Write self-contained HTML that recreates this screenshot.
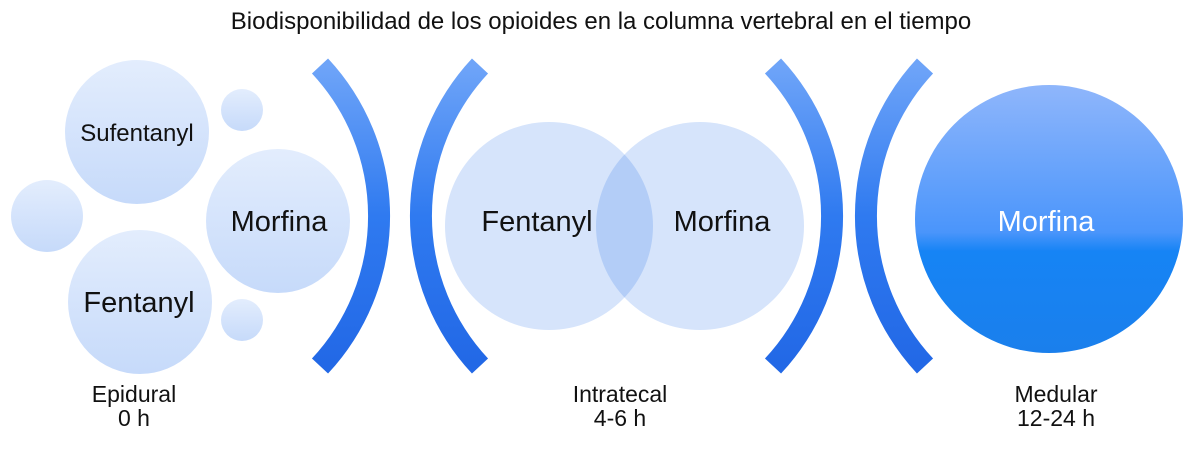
<!DOCTYPE html>
<html><head><meta charset="utf-8"><style>
html,body{margin:0;padding:0;background:#fff;}
svg{display:block;font-family:"Liberation Sans",sans-serif;}
</style></head><body>
<svg width="1200" height="452" viewBox="0 0 1200 452" xmlns="http://www.w3.org/2000/svg">
<defs>
<linearGradient id="lb" x1="0" y1="0" x2="0" y2="1">
<stop offset="0" stop-color="#e3edfd"/><stop offset="1" stop-color="#c6dafa"/>
</linearGradient>
<linearGradient id="db" x1="0" y1="0" x2="0" y2="1">
<stop offset="0" stop-color="#8fb6fb"/><stop offset="0.55" stop-color="#4a95fb"/><stop offset="0.62" stop-color="#1684f5"/><stop offset="1" stop-color="#1a7fec"/>
</linearGradient>
<linearGradient id="arc" x1="0" y1="0" x2="0" y2="1">
<stop offset="0" stop-color="#6ea4f8"/><stop offset="0.5" stop-color="#2f7af0"/><stop offset="1" stop-color="#2268e6"/>
</linearGradient>
<clipPath id="lc"><circle cx="549" cy="226" r="104"/></clipPath>
</defs>
<text x="601" y="29" font-size="24" text-anchor="middle" fill="#111">Biodisponibilidad de los opioides en la columna vertebral en el tiempo</text>

<circle cx="137" cy="132" r="72" fill="url(#lb)"/>
<circle cx="242" cy="110" r="21" fill="url(#lb)"/>
<circle cx="47" cy="216" r="36" fill="url(#lb)"/>
<circle cx="278" cy="221" r="72" fill="url(#lb)"/>
<circle cx="140" cy="302" r="72" fill="url(#lb)"/>
<circle cx="242" cy="320" r="21" fill="url(#lb)"/>
<text x="137" y="141" font-size="24" text-anchor="middle" fill="#111">Sufentanyl</text>
<text x="279" y="231" font-size="29" text-anchor="middle" fill="#111">Morfina</text>
<text x="139" y="312" font-size="29" text-anchor="middle" fill="#111">Fentanyl</text>

<g fill="none" stroke="url(#arc)" stroke-width="22">
<path d="M320 66 A220 220 0 0 1 320 366"/>
<path d="M480 66 A220 220 0 0 0 480 366"/>
<path d="M773 66 A220 220 0 0 1 773 366"/>
<path d="M925 66 A220 220 0 0 0 925 366"/>
</g>

<circle cx="549" cy="226" r="104" fill="#d6e4fb"/>
<circle cx="700" cy="226" r="104" fill="#d6e4fb"/>
<circle cx="700" cy="226" r="104" fill="#b3cdf7" clip-path="url(#lc)"/>
<text x="537" y="231" font-size="29" text-anchor="middle" fill="#111">Fentanyl</text>
<text x="722" y="231" font-size="29" text-anchor="middle" fill="#111">Morfina</text>

<circle cx="1049" cy="219" r="134" fill="url(#db)"/>
<text x="1046" y="231" font-size="29" text-anchor="middle" fill="#fff">Morfina</text>

<g font-size="23" text-anchor="middle" fill="#111">
<text x="134" y="402">Epidural</text><text x="134" y="426">0 h</text>
<text x="620" y="402">Intratecal</text><text x="620" y="426">4-6 h</text>
<text x="1056" y="402">Medular</text><text x="1056" y="426">12-24 h</text>
</g>
</svg>
</body></html>
